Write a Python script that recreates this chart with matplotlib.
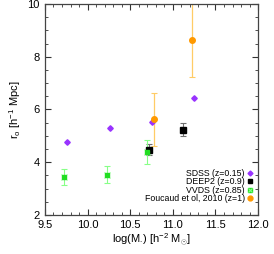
import matplotlib
matplotlib.use("Agg")
import matplotlib.pyplot as plt
from matplotlib.ticker import MultipleLocator
from matplotlib.lines import Line2D

plt.rcParams['font.family'] = ['Liberation Sans', 'DejaVu Sans']
plt.rcParams['mathtext.fontset'] = 'custom'
plt.rcParams['mathtext.rm'] = 'Liberation Sans'
plt.rcParams['mathtext.it'] = 'Liberation Sans'

sdss_x = [9.76, 10.26, 10.75, 11.25]
sdss_y = [4.75, 5.28, 5.53, 6.45]

deep2_x = [10.72, 11.12]
deep2_y = [4.48, 5.24]
deep2_err = [0.2, 0.25]

vvds_x = [9.72, 10.23, 10.70]
vvds_y = [3.45, 3.53, 4.39]
vvds_err = [0.31, 0.31, 0.45]

fouc_x = [10.78, 11.23]
fouc_y = [5.62, 8.64]
fouc_err = [1.0, 1.42]

labels = ['SDSS (z=0.15)', 'DEEP2 (z=0.9)', 'VVDS (z=0.85)', 'Foucaud et ol, 2010 (z=1)']

C_SDSS = '#9933ff'
C_VV = '#22dd22'
C_VV2 = '#88ff88'
C_FO = '#ff9900'

fig = plt.figure(figsize=(2.74, 2.54), dpi=100)
ax = fig.add_axes([0.164, 0.154, 0.778, 0.830])

ax.errorbar(sdss_x, sdss_y, fmt='D', color=C_SDSS, ms=2.8, mec=C_SDSS)
ax.errorbar(deep2_x, deep2_y, yerr=deep2_err, fmt='s', color='black', ecolor='#707070',
            elinewidth=0.8, capsize=2, capthick=0.8, ms=4)
ax.errorbar(vvds_x, vvds_y, yerr=vvds_err, fmt='s', color=C_VV, ecolor=C_VV2,
            elinewidth=0.8, capsize=2, capthick=0.8, ms=3)
ax.plot(vvds_x, vvds_y, 'x', color=C_VV2, ms=4, mew=0.8)
ax.errorbar(fouc_x, fouc_y, yerr=fouc_err, fmt='o', color=C_FO, ecolor='#ffcc66',
            elinewidth=0.9, capsize=2, capthick=0.8, ms=4)

ax.set_xlim(9.5, 12.0)
ax.set_ylim(2, 10)
ax.xaxis.set_major_locator(MultipleLocator(0.5))
ax.xaxis.set_minor_locator(MultipleLocator(0.1))
ax.yaxis.set_major_locator(MultipleLocator(2))
ax.yaxis.set_minor_locator(MultipleLocator(0.5))
ax.xaxis.set_major_formatter(plt.FuncFormatter(lambda v, p: f'{v:.1f}'))
ax.tick_params(which='both', direction='in', top=True, right=True, labelsize=8, color='#333333')
ax.tick_params(which='major', length=4, width=0.8, pad=4)
ax.tick_params(which='minor', length=2, width=0.6)
for s in ax.spines.values():
    s.set_linewidth(0.9)
    s.set_color('#444444')

ax.set_xlabel(r'log(M$_{\bullet}$) [h$^{-2}$ M$_{\odot}$]', fontsize=8, labelpad=1)
ax.set_ylabel(r'r$_{o}$ [h$^{-1}$ Mpc]', fontsize=8, labelpad=3)

handles = [
    Line2D([], [], ls='none', marker='D', color=C_SDSS, ms=2.5),
    Line2D([], [], ls='none', marker='s', color='black', ms=3.5),
    (Line2D([], [], ls='none', marker='s', color=C_VV, ms=2.5),
     Line2D([], [], ls='none', marker='x', color=C_VV2, ms=3.5, mew=0.8)),
    Line2D([], [], ls='none', marker='o', color=C_FO, ms=3.5),
]
ax.legend(handles, labels, loc='lower right', markerfirst=False, frameon=False, fontsize=6.3,
          handlelength=0.6, handletextpad=0.3, labelspacing=-0.05, borderaxespad=0.0,
          borderpad=0.0, bbox_to_anchor=(0.975, 0.055))

fig.savefig('out.png', dpi=100)
